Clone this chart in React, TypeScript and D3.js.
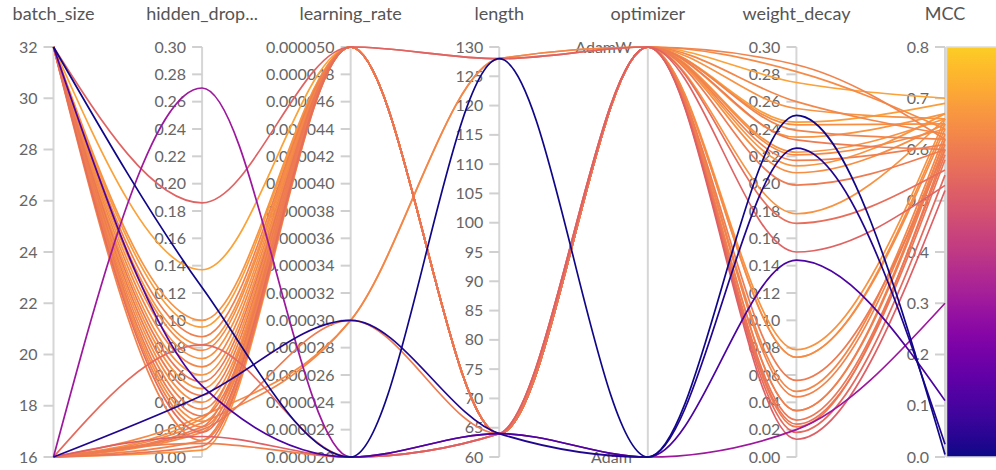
import * as d3 from "d3";

// one entry per run (4 low-MCC runs first, then the orange ones)
const batchSize = [
  32, 16, 32, 16,
  32, 32, 32, 32, 32, 32, 32, 32, 32, 32, 32, 32, 32, 32, 32, 32, 32, 32, 32, 32,
  16, 16, 16, 16, 16, 16, 16, 16, 16, 16, 16, 16,
];
const hiddenDropout = [
  0.124, 0.045, 0.052, 0.27,
  0.186, 0.137, 0.1, 0.095, 0.088, 0.082, 0.078, 0.072, 0.066, 0.06, 0.055, 0.05,
  0.045, 0.04, 0.035, 0.03, 0.026, 0.022, 0.018, 0.012,
  0.082, 0.03, 0.025, 0.02, 0.015, 0.01, 0.028, 0.022, 0.018, 0.012, 0.008, 0.005,
];
const learningRate = [
  0.00002, 0.00003, 0.00002, 0.00002,
  0.00005, 0.00005, 0.00005, 0.00005, 0.00005, 0.00005, 0.00005, 0.00005, 0.00005, 0.00005,
  0.00005, 0.00005, 0.00005, 0.00005, 0.00005, 0.00005, 0.00005, 0.00005, 0.00005, 0.00005,
  0.00002, 0.00003, 0.00003, 0.00003, 0.00002, 0.00002, 0.00005, 0.00005, 0.00005, 0.00005,
  0.00005, 0.00005,
];
const seqLength = [
  128, 64, 64, 64,
  128, 64, 64, 64, 64, 64, 64, 64, 64, 64, 64, 64, 64, 64, 64, 64, 64, 64, 128, 64,
  64, 128, 128, 64, 64, 64, 64, 64, 64, 64, 64, 64,
];
const optimizer = [
  "Adam", "Adam", "Adam", "Adam",
  ...Array(32).fill("AdamW"),
];
const weightDecay = [
  0.25, 0.226, 0.144, 0.02,
  0.15, 0.274, 0.0785, 0.245, 0.034, 0.223, 0.073, 0.255, 0.048, 0.213, 0.027, 0.234,
  0.199, 0.073, 0.239, 0.022, 0.208, 0.044, 0.171, 0.287,
  0.018, 0.282, 0.26, 0.056, 0.013, 0.217, 0.243, 0.232, 0.221, 0.034, 0.024, 0.178,
];
const mcc = [
  0.005, 0.025, 0.11, 0.3,
  0.53, 0.7, 0.66, 0.69, 0.61, 0.66, 0.64, 0.66, 0.63, 0.67, 0.59, 0.67,
  0.6, 0.65, 0.62, 0.6, 0.65, 0.62, 0.56, 0.62,
  0.55, 0.64, 0.63, 0.6, 0.52, 0.61, 0.65, 0.6, 0.64, 0.62, 0.58, 0.66,
];

const dimKeys = ["batch_size", "hidden_dropout", "learning_rate", "length", "optimizer", "weight_decay", "MCC"];
const dimTitles = ["batch_size", "hidden_drop...", "learning_rate", "length", "optimizer", "weight_decay", "MCC"];
const optimizerLevels = ["Adam", "AdamW"];

const width = 996;
const height = 470;
const yTop = 47;
const yBottom = 457;

const color = (v: number) => d3.interpolatePlasma((v / 0.8) * 0.9);

export default function App() {
  const x = d3.scalePoint<string>().domain(dimKeys).range([53.5, 945]);

  const lin = (d: [number, number]) => d3.scaleLinear().domain(d).range([yBottom, yTop]);
  const opt = d3.scalePoint<string>().domain(optimizerLevels).range([yBottom, yTop]);

  const dims = [
    { key: "batch_size", scale: lin([16, 32]), ticks: lin([16, 32]).ticks(8), fmt: d3.format("d"), values: batchSize },
    { key: "hidden_dropout", scale: lin([0, 0.3]), ticks: lin([0, 0.3]).ticks(15), fmt: d3.format(".2f"), values: hiddenDropout },
    { key: "learning_rate", scale: lin([0.00002, 0.00005]), ticks: lin([0.00002, 0.00005]).ticks(15), fmt: d3.format(".6f"), values: learningRate },
    { key: "length", scale: lin([60, 130]), ticks: lin([60, 130]).ticks(14), fmt: d3.format("d"), values: seqLength },
    { key: "optimizer", scale: null, ticks: [], fmt: d3.format("d"), values: optimizer },
    { key: "weight_decay", scale: lin([0, 0.3]), ticks: lin([0, 0.3]).ticks(15), fmt: d3.format(".2f"), values: weightDecay },
    { key: "MCC", scale: lin([0, 0.8]), ticks: lin([0, 0.8]).ticks(8), fmt: d3.format(".1f"), values: mcc },
  ];

  const yOf = (di: number, i: number) => {
    const dm = dims[di];
    if (dm.key === "optimizer") return opt(optimizer[i] as string)!;
    return dm.scale!(dm.values[i] as number);
  };

  const line = d3.line<[number, number]>().curve(d3.curveMonotoneX);

  // high MCC drawn first so the cold runs sit on top
  const order = d3.range(mcc.length).sort((a, b) => mcc[b] - mcc[a]);

  const gradStops = d3.range(0, 1.0001, 0.05);

  return (
    <svg
      width={width}
      height={height}
      style={{ position: "absolute", left: 0, top: 0, fontFamily: "Lato, sans-serif" }}
    >
      <defs>
        <linearGradient id="mccGrad" x1="0" y1="1" x2="0" y2="0">
          {gradStops.map((t) => (
            <stop key={t} offset={t} stopColor={color(t * 0.8)} />
          ))}
        </linearGradient>
      </defs>

      {/* axes */}
      {dims.map((dm, di) => {
        const ax = x(dm.key)!;
        return (
          <g key={dm.key}>
            <line x1={ax} x2={ax} y1={yTop} y2={yBottom} stroke="#d6d6d6" strokeWidth={2} />
            {dm.ticks.map((t) => (
              <g key={t} transform={`translate(0,${dm.scale!(t)})`}>
                <line x1={ax - 10} x2={ax} stroke="#d0d0d0" strokeWidth={2} />
                <text x={ax - 16} dy="0.35em" textAnchor="end" fontSize={16} fill="#666">
                  {dm.fmt(t)}
                </text>
              </g>
            ))}
            {dm.key === "optimizer" &&
              optimizerLevels.map((o) => (
                <text key={o} x={ax - 16} y={opt(o)} dy="0.35em" textAnchor="end" fontSize={16} fill="#666">
                  {o}
                </text>
              ))}
            <text x={ax} y={20} textAnchor="middle" fontSize={18} fill="#555">
              {dimTitles[di]}
            </text>
          </g>
        );
      })}

      {/* colour bar */}
      <rect x={946.5} y={yTop} width={60} height={yBottom - yTop} fill="url(#mccGrad)" stroke="#dcdcdc" strokeWidth={1.5} />

      {/* runs */}
      <g fill="none">
        {order.map((i) => {
          const pts = dims.map((_, di) => [x(dimKeys[di])!, yOf(di, i)] as [number, number]);
          return <path key={i} d={line(pts)!} stroke={color(mcc[i])} strokeWidth={1.7} />;
        })}
      </g>
    </svg>
  );
}
